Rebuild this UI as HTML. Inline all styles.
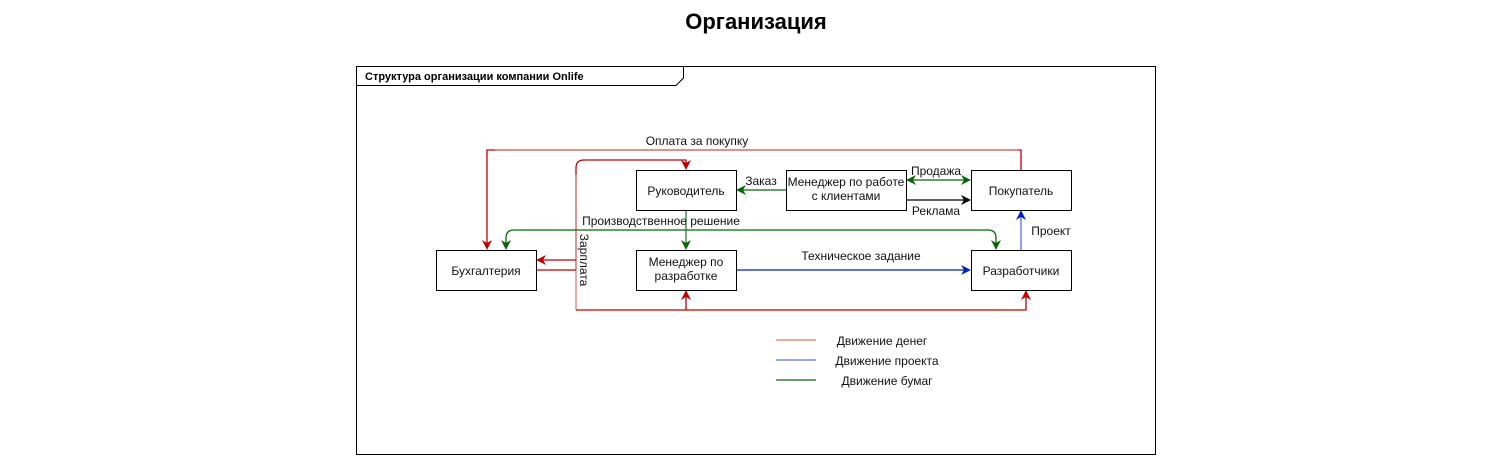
<!DOCTYPE html>
<html><head><meta charset="utf-8"><style>
body{margin:0;background:#fff;}
svg text{font-family:"Liberation Sans",sans-serif;}
</style></head><body>
<svg width="1512" height="457" xmlns="http://www.w3.org/2000/svg">
<defs>
<marker id="r" markerWidth="10" markerHeight="10" refX="8" refY="5" orient="auto" markerUnits="userSpaceOnUse"><path d="M0,0 L10,5 L0,10 L3,5 z" fill="#c00000"/></marker>
<marker id="g" markerWidth="10" markerHeight="10" refX="8" refY="5" orient="auto" markerUnits="userSpaceOnUse"><path d="M0,0 L10,5 L0,10 L3,5 z" fill="#0b640b"/></marker>
<marker id="gs" markerWidth="10" markerHeight="10" refX="2" refY="5" orient="auto" markerUnits="userSpaceOnUse"><path d="M10,0 L0,5 L10,10 L7,5 z" fill="#0b640b"/></marker>
<marker id="b" markerWidth="10" markerHeight="10" refX="8" refY="5" orient="auto" markerUnits="userSpaceOnUse"><path d="M0,0 L10,5 L0,10 L3,5 z" fill="#0022bb"/></marker>
<marker id="k" markerWidth="10" markerHeight="10" refX="8" refY="5" orient="auto" markerUnits="userSpaceOnUse"><path d="M0,0 L10,5 L0,10 L3,5 z" fill="#000"/></marker>
</defs>
<text x="756" y="29" font-size="22" font-weight="bold" text-anchor="middle">Организация</text>
<rect x="356.5" y="66.5" width="799" height="388" fill="none" stroke="#000"/>
<path d="M356.5,85.5 H676 L683.5,78 V66.5" fill="none" stroke="#000"/>
<text x="365" y="80" font-size="11" font-weight="bold">Структура организации компании Onlife</text>

<g fill="none" stroke-width="1.3">
<path d="M1021,170 V150 H487 V248" stroke="#c00000" marker-end="url(#r)"/>
<path d="M1018,150 H495" stroke="#e07070"/>
<path d="M576,270 V168 Q576,160 584,160 H686 V168" stroke="#c00000" marker-end="url(#r)"/>
<path d="M576,175 V310" stroke="#e08080"/>
<path d="M576,310 H1026 V292" stroke="#c00000" marker-end="url(#r)"/>
<path d="M686,310 V292" stroke="#c00000" marker-end="url(#r)"/>
<path d="M576,260 H538" stroke="#c00000" marker-end="url(#r)"/>
<path d="M576,270 H536" stroke="#c00000"/>
<path d="M700,230 H514 Q506,230 506,238 V248" stroke="#0b640b" marker-end="url(#g)"/>
<path d="M700,230 H988 Q996,230 996,238 V248" stroke="#0b640b" marker-end="url(#g)"/>
<path d="M686,210 V248" stroke="#2e7d32" marker-end="url(#g)"/>
<path d="M786,190 H738" stroke="#0b640b" marker-end="url(#g)"/>
<path d="M908,180 H969" stroke="#0b640b" marker-start="url(#gs)" marker-end="url(#g)"/>
<path d="M906,200 H969" stroke="#000" marker-end="url(#k)"/>
<path d="M736,270 H969" stroke="#0022bb" marker-end="url(#b)"/>
<path d="M1021,250 V212" stroke="#5570dd" marker-end="url(#b)"/>
<path d="M776,340 H816" stroke="#e07070"/>
<path d="M776,360 H816" stroke="#6070e0"/>
<path d="M776,380 H816" stroke="#0b640b"/>
</g>
<g fill="#fff" stroke="#000" stroke-width="1">
<rect x="436.5" y="250.5" width="100" height="40"/>
<rect x="636.5" y="170.5" width="100" height="40"/>
<rect x="636.5" y="250.5" width="100" height="40"/>
<rect x="786.5" y="170.5" width="120" height="40"/>
<rect x="971.5" y="170.5" width="100" height="40"/>
<rect x="971.5" y="250.5" width="100" height="40"/>
</g>
<g font-size="12" text-anchor="middle" fill="#111">
<text x="486" y="275">Бухгалтерия</text>
<text x="686" y="195">Руководитель</text>
<text x="686" y="266">Менеджер по</text>
<text x="686" y="280">разработке</text>
<text x="846" y="186">Менеджер по работе</text>
<text x="846" y="200">с клиентами</text>
<text x="1021" y="195">Покупатель</text>
<text x="1021" y="275">Разработчики</text>
<text x="697" y="145">Оплата за покупку</text>
<text x="661" y="225">Производственное  решение</text>
<text x="761" y="185">Заказ</text>
<text x="936" y="175">Продажа</text>
<text x="936" y="215">Реклама</text>
<text x="1051" y="235">Проект</text>
<text x="861" y="260">Техническое задание</text>
<text x="882" y="345">Движение денег</text>
<text x="887" y="365">Движение проекта</text>
<text x="887" y="385">Движение бумаг</text>
<text x="0" y="0" transform="translate(580,260) rotate(90)">Зарплата</text>
</g>
</svg>
</body></html>
